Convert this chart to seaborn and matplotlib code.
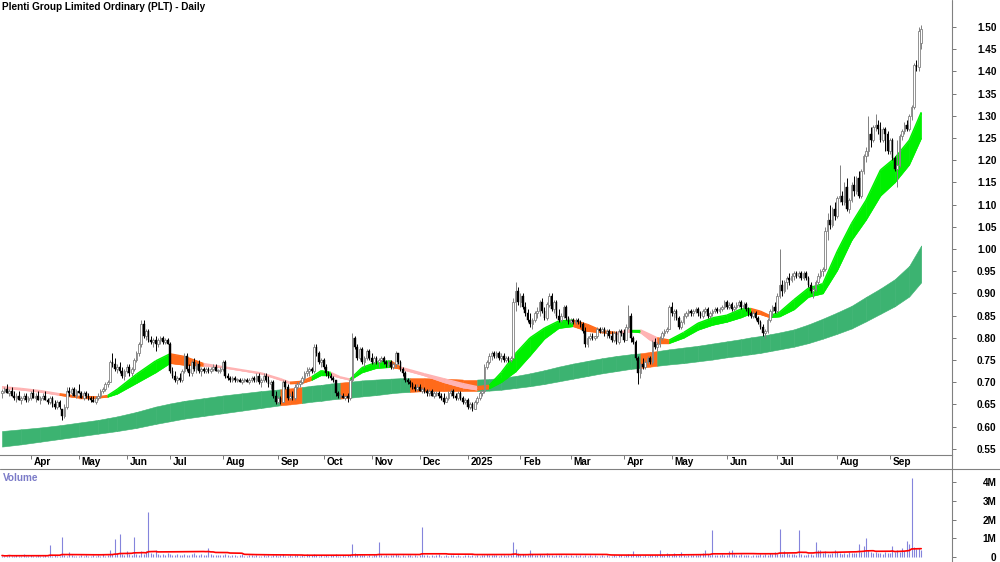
import numpy as np
import pandas as pd
import matplotlib
matplotlib.use('Agg')
import matplotlib.pyplot as plt
from matplotlib.lines import Line2D
import seaborn as sns

# ----------------------------------------------------
# Daily candles (cents), one value per trading day, mid Mar 2024 -> mid Sep 2025
# ----------------------------------------------------
opens = [
    67.5, 68, 68.5, 67.5, 68, 67, 66.5, 67, 66, 66.5, 67, 66,
    66.5, 67.5, 66.5, 67, 66, 66.5, 67, 66, 65.5, 66.5, 65, 64.5, 65.5, 64, 62.5, 64.5,
    68, 67.5, 68.5, 67, 68, 67.5, 66.5, 67.5, 67, 66.5, 66, 65.5, 66.5, 67, 68, 68.5, 69.5,
    70, 74.5, 74, 73, 73.5, 72.5, 71.5, 72.5, 73.5, 72, 73, 75,
    76.5, 78.5, 83, 80.5, 81.5, 79.5, 79, 79.5, 78.5, 79.5, 80, 79, 79.5, 78.5,
    72.5, 71.5, 70.5, 71, 70.5, 72.5, 76, 73, 72, 74.5, 73, 74, 72.5, 73, 72.5,
    73, 72.5, 73, 73.5, 72.5, 72.5, 73, 74.5, 71.5, 71, 70.5, 71, 70.5, 70.5, 70, 70.5, 70.5, 70, 70.5, 71,
    70.5, 71.5, 70, 70.5, 71.5, 70.5, 69.5, 70, 67, 65.5, 66.5, 65.5, 70, 69, 66.5, 67, 66.5, 69, 69.5, 70, 71, 72, 72.5, 73, 72.5,
    78, 76.5, 74.5, 75, 73.5, 72, 71.5, 71, 70.5, 67.5, 67, 67, 66.5, 67, 66.5, 70.5,
    80, 78, 75.5, 77.5, 74.5, 75.5, 77, 75.5, 74.5, 75.5, 74.5, 75, 75.5, 74.5, 74, 74.5, 73.5, 74, 76.5, 74.5, 73, 72, 70.5, 70,
    69.5, 69, 68.5, 69, 68, 68.5, 68, 67.5, 68, 67, 67.5, 67.5, 67, 66.5, 65.5, 66.5, 67.5, 68, 67, 66.5, 67.5, 66.5, 65.5, 66, 64.5, 65, 64, 65.5, 66.5, 67.5,
    68, 73.5, 74.5, 76, 76.5, 76, 76.5, 75.5, 76, 75, 75.5, 75,
    75.5, 88, 90.5, 88, 89.5, 87, 85.5, 84, 83, 84, 85.5, 86, 88, 86, 84.5, 87.5, 89.5, 86.5, 88, 85, 84, 85, 87, 84.5, 83.5, 84, 83.5, 84, 83.5,
    83, 81.5, 78.5, 80, 80.5, 80, 80.5, 82, 81.5, 82, 81, 81.5, 80.5, 79.5, 81, 79, 81.5, 81, 79.5, 82.5, 85, 80, 79, 75.5, 72,
    74, 73.5, 74.5, 75.5, 74.5, 79, 78, 78.5, 80, 81, 81.5, 82, 87, 85.5,
    86, 84.5, 82.5, 83.5, 85, 85.5, 86, 85.5, 86, 86.5, 85.5, 85, 86, 86.5, 85, 85.5, 86, 86.5, 86, 86.5, 87, 88, 87, 87.5, 86.5, 87, 87.5, 88, 87, 87.5, 86.5, 85.5, 85, 85.5, 84.5, 83.5,
    82.5, 81, 81.5, 84, 86, 87, 86, 89.5, 92, 90.5, 92.5, 93.5, 93, 94, 94.5, 94, 94.5, 93.5, 94.5, 93.5, 92, 90.5, 91, 92.5, 94, 95,
    95.5, 104, 106.5, 105.5, 109, 107.5, 111.5, 112, 110.5, 114, 109, 111, 114.5, 113, 116, 112, 117.5, 121,
    122, 126, 124.5, 127.5, 128, 127, 124.5, 127, 126, 122, 124.5, 120.5, 118, 119, 125.5, 126.5, 128, 127, 130, 132, 141.5, 141, 146.5,
]
highs = [
    68.5, 69, 69.5, 68.5, 69, 68, 67.5, 68, 67, 67.5, 67.5, 67,
    68, 68.5, 67.5, 68, 67, 67.5, 68, 66.5, 67, 67, 66, 66, 66, 64, 65, 69,
    69, 69, 69, 68.5, 69.5, 68, 68, 68, 67.5, 67, 67, 67, 67.5, 68.5, 69, 70, 70.5,
    75, 76.5, 75.5, 74, 74.5, 73.5, 73, 74, 74, 73.5, 75.5, 77,
    79, 84, 84, 82, 82, 80.5, 80, 80.5, 80, 80.5, 80.5, 80, 80, 79,
    73.5, 72.5, 71.5, 72, 73, 76.5, 76.5, 74, 75, 75.5, 74.5, 75, 73.5, 73.5, 73.5,
    73.5, 73.5, 74, 74, 73, 73.5, 75, 75, 72, 71.5, 71.5, 71.5, 71, 71, 71, 71, 71, 71, 71.5, 71.5,
    72, 72, 71, 72, 72, 71.5, 70.5, 70.5, 68, 67, 67, 70.5, 70.5, 69.5, 67.5, 68, 69.5, 70, 70.5, 71.5, 72.5, 73.5, 73.5, 73.5, 78.5,
    78.5, 77, 75.5, 75.5, 74, 72.5, 72, 71.5, 70.5, 68, 67.5, 67.5, 67, 67.5, 71, 81,
    80.5, 78.5, 78, 78, 76, 77.5, 77.5, 76.5, 76, 76, 75.5, 76, 76, 75, 75, 75, 74.5, 77, 76.5, 75, 73.5, 72.5, 71, 70.5,
    70, 69.5, 69.5, 69.5, 69, 69, 68.5, 68.5, 68.5, 68, 68, 68, 67.5, 67.5, 67, 68, 68.5, 68.5, 67.5, 68, 68, 67, 66.5, 66.5, 65.5, 65.5, 66, 67, 68, 68.5,
    74, 75, 76.5, 77, 77, 77, 77, 76.5, 76.5, 76, 76, 76,
    89, 92.5, 91.5, 90, 90, 88, 86.5, 85.5, 84.5, 86, 87, 88.5, 89, 87, 88, 90, 90, 88.5, 88.5, 86.5, 85.5, 87.5, 87.5, 85, 84.5, 84.5, 84.5, 84.5, 84,
    83.5, 82.5, 80.5, 81, 81, 80.5, 82.5, 82.5, 82.5, 82.5, 82, 82, 81.5, 81.5, 81.5, 82, 82, 82, 83, 87.5, 85.5, 80.5, 79.5, 76, 74.5,
    75.5, 75, 76, 76, 79.5, 80, 79, 80.5, 81.5, 82, 82.5, 87.5, 88, 86.5,
    86.5, 85, 84, 85.5, 86, 86.5, 86.5, 86.5, 87, 87, 86, 86.5, 87, 87, 86, 86.5, 87, 87, 87, 87.5, 88.5, 88.5, 88, 88, 87.5, 88, 88.5, 88.5, 88, 88, 87, 86, 86, 86, 85, 84,
    83, 82, 84.5, 86.5, 87.5, 88, 90, 100, 93, 93, 94, 94.5, 94.5, 95, 95, 95, 95, 95, 95, 94, 92.5, 91.5, 93, 94.5, 95.5, 96,
    105, 108, 110, 109.5, 110.5, 112, 119, 113, 115, 116, 111.5, 115, 116.5, 116.5, 117.5, 118, 121.5, 123,
    130, 127.5, 128, 130.5, 129, 128.5, 127.5, 127.5, 126.5, 125, 125, 121, 124.5, 126, 127, 128.5, 129, 130.5, 132.5, 142, 142.5, 150, 150.5,
]
lows = [
    66.5, 67.5, 67.5, 67, 67, 66, 65.5, 66, 65, 66, 65.5, 65.5,
    66, 66.5, 65.5, 66, 65, 66, 66, 65, 65, 64.5, 64, 64, 64, 61.5, 62, 64,
    67, 67, 67, 66.5, 67.5, 66.5, 66, 66.5, 66, 65.5, 65.5, 65, 66, 66.5, 67.5, 68, 69,
    70, 73.5, 72.5, 72, 72, 71, 70.5, 72, 71.5, 71.5, 72.5, 74.5,
    76, 78, 80, 79.5, 79, 78.5, 78, 77, 78, 78.5, 78.5, 78.5, 78.5, 72,
    71, 70, 69.5, 70, 70, 72, 72.5, 71.5, 71.5, 72.5, 72, 72, 71.5, 72, 72,
    72, 72, 72.5, 72.5, 72, 72, 72.5, 71, 70.5, 70, 70, 70, 70, 70, 69.5, 70, 70, 69.5, 70, 70,
    70, 69.5, 69, 70, 70, 69, 68.5, 66.5, 65, 65, 65, 65.5, 68.5, 66, 66, 66, 66, 68.5, 69, 69.5, 70.5, 71.5, 71.5, 72, 72,
    76, 74, 73.5, 73, 71.5, 71, 70.5, 70, 67, 66.5, 66.5, 66.5, 66, 65.5, 66, 70,
    77.5, 75, 75, 74, 73.5, 75, 75, 74, 74, 74, 73.5, 74.5, 74, 73.5, 73.5, 73, 73, 73.5, 74, 72.5, 71.5, 70, 69.5, 69,
    68.5, 68, 68, 68, 67.5, 67.5, 67, 67, 67, 66.5, 67, 66.5, 66, 65, 65.5, 66, 67, 66.5, 66, 66, 66, 65, 65, 64, 64, 63.5, 64, 65, 66, 67,
    67.5, 73, 74, 75, 75.5, 75.5, 75, 74.5, 74.5, 74.5, 74.5, 74.5,
    75.5, 86, 87.5, 87, 86.5, 85, 83.5, 82.5, 82, 83.5, 84.5, 85, 85.5, 84, 84, 87, 86, 85.5, 84.5, 83.5, 83.5, 84.5, 84, 83, 83, 83, 83, 83, 82.5,
    81, 78, 78, 79.5, 79.5, 79.5, 80, 81, 81, 80.5, 80, 80, 79, 79, 78.5, 78.5, 80.5, 79, 79.5, 82, 79, 78.5, 75, 69.5, 71,
    73, 73, 74, 74, 74, 77.5, 77, 78, 79.5, 80.5, 81, 82, 85, 84,
    84, 82, 82, 83, 84.5, 85, 85, 85, 85.5, 85, 84.5, 84.5, 85.5, 84.5, 84.5, 85, 85.5, 85.5, 85.5, 86, 86.5, 86.5, 86.5, 86, 86, 86.5, 87, 86.5, 86.5, 86, 85, 84.5, 84.5, 84, 83, 82,
    80.5, 80, 81, 83.5, 85, 85.5, 85.5, 89, 89.5, 90, 91, 92, 92.5, 93, 93.5, 93.5, 93, 93, 93, 91.5, 90, 89, 90.5, 92, 93.5, 94,
    95, 102, 104.5, 105, 106.5, 107, 110.5, 110, 110, 108.5, 108, 110.5, 112, 112.5, 111.5, 111.5, 117, 119.5,
    121, 123, 124, 126.5, 126, 124, 124, 122, 121.5, 121.5, 120, 117.5, 114, 118.5, 124.5, 126, 126.5, 126.5, 129, 131.5, 140, 140, 145,
]
closes = [
    68, 68.5, 67.5, 68, 67, 66.5, 67, 66, 66.5, 67, 66, 66.5,
    67.5, 66.5, 67, 66, 66.5, 67, 66, 65.5, 66.5, 65, 64.5, 65.5, 64.5, 62.5, 64.5, 68,
    67.5, 68.5, 67, 68, 67.5, 66.5, 67.5, 67, 66.5, 66, 65.5, 66.5, 67, 68, 68.5, 69.5, 70,
    74.5, 74, 73, 73.5, 72.5, 71.5, 72.5, 73.5, 72, 73, 75, 76.5,
    78.5, 83, 80.5, 81.5, 79.5, 79, 79.5, 78.5, 79.5, 80, 79, 79.5, 78.5, 72.5,
    71.5, 70.5, 71, 70.5, 72.5, 76, 73, 72, 74.5, 73, 74, 72.5, 73, 72.5, 73,
    72.5, 73, 73.5, 72.5, 72.5, 73, 74.5, 71.5, 71, 70.5, 71, 70.5, 70.5, 70, 70.5, 70.5, 70, 70.5, 71, 70.5,
    71.5, 70, 70.5, 71.5, 70.5, 69.5, 70, 67, 65.5, 66.5, 65.5, 70, 69, 66.5, 67, 66.5, 69, 69.5, 70, 71, 72, 72.5, 73, 72.5, 78,
    76.5, 74.5, 75, 73.5, 72, 71.5, 71, 70.5, 67.5, 67, 67, 66.5, 67, 66.5, 70.5, 80,
    78, 75.5, 77.5, 74.5, 75.5, 77, 75.5, 74.5, 75.5, 74.5, 75, 75.5, 74.5, 74, 74.5, 73.5, 74, 76.5, 74.5, 73, 72, 70.5, 70, 69.5,
    69, 68.5, 69, 68, 68.5, 68, 67.5, 68, 67, 67.5, 67.5, 67, 66.5, 65.5, 66.5, 67.5, 68, 67, 66.5, 67.5, 66.5, 65.5, 66, 64.5, 65, 64, 65.5, 66.5, 67.5, 68,
    73.5, 74.5, 76, 76.5, 76, 76.5, 75.5, 76, 75, 75.5, 75, 75.5,
    88, 90.5, 88, 89.5, 87, 85.5, 84, 83, 84, 85.5, 86, 88, 86, 84.5, 87.5, 89.5, 86.5, 88, 85, 84, 85, 87, 84.5, 83.5, 84, 83.5, 84, 83.5, 83,
    81.5, 78.5, 80, 80.5, 80, 80.5, 82, 81.5, 82, 81, 81.5, 80.5, 79.5, 81, 79, 81.5, 81, 79.5, 82.5, 85, 80, 79, 75.5, 72, 74,
    73.5, 74.5, 75.5, 74.5, 79, 78, 78.5, 80, 81, 81.5, 82, 87, 85.5, 86,
    84.5, 82.5, 83.5, 85, 85.5, 86, 85.5, 86, 86.5, 85.5, 85, 86, 86.5, 85, 85.5, 86, 86.5, 86, 86.5, 87, 88, 87, 87.5, 86.5, 87, 87.5, 88, 87, 87.5, 86.5, 85.5, 85, 85.5, 84.5, 83.5, 82.5,
    81, 81.5, 84, 86, 87, 86, 89.5, 92, 90.5, 92.5, 93.5, 93, 94, 94.5, 94, 94.5, 93.5, 94.5, 93.5, 92, 90.5, 91, 92.5, 94, 95, 95.5,
    104, 106.5, 105.5, 109, 107.5, 111.5, 112, 110.5, 114, 109, 111, 114.5, 113, 116, 112, 117.5, 121, 122,
    126, 124.5, 127.5, 128, 127, 124.5, 127, 126, 122, 124.5, 120.5, 118, 119, 125.5, 126.5, 128, 127, 130, 132, 141.5, 141, 149, 149.5,
]

# Daily volume, thousands of shares
volume = [
    80, 45, 60, 120, 35, 70, 90, 40, 55, 150, 60, 30, 85, 70, 45, 110,
    60, 40, 95, 50, 640, 70, 120, 45, 80, 1070, 130, 60, 270, 90, 50, 75,
    60, 110, 40, 85, 70, 55, 130, 45, 90, 60, 150, 80, 120, 370, 140, 960,
    200, 1230, 180, 90, 300, 140, 110, 1070, 160, 120, 300, 150, 300, 2400, 220, 140,
    370, 180, 130, 160, 110, 200, 150, 130, 90, 170, 120, 100, 140, 90, 110, 160,
    200, 130, 100, 150, 120, 90, 480, 140, 110, 100, 130, 90, 120, 150, 100, 80,
    120, 90, 70, 110, 140, 80, 60, 100, 90, 70, 120, 60, 80, 110, 50, 90,
    70, 130, 100, 60, 90, 150, 80, 60, 110, 70, 90, 130, 60, 100, 80, 140,
    90, 120, 180, 110, 80, 130, 70, 100, 60, 90, 110, 140, 80, 60, 100, 70,
    90, 120, 690, 200, 150, 110, 90, 130, 80, 100, 70, 120, 90, 800, 110, 80,
    100, 70, 90, 120, 150, 110, 80, 100, 60, 90, 130, 70, 110, 80, 100, 1600,
    120, 90, 70, 110, 60, 100, 150, 80, 70, 120, 60, 90, 110, 70, 100, 80,
    60, 120, 90, 70, 100, 80, 110, 60, 90, 130, 150, 110, 90, 120, 100, 80,
    110, 90, 70, 100, 120, 800, 450, 200, 130, 150, 110, 90, 350, 140, 100, 120,
    150, 110, 90, 200, 130, 100, 80, 120, 90, 110, 70, 100, 60, 90, 80, 110,
    70, 100, 60, 90, 80, 120, 70, 100, 60, 80, 110, 70, 90, 60, 80, 100,
    70, 90, 110, 80, 130, 150, 100, 300, 120, 90, 110, 80, 100, 70, 90, 130,
    100, 120, 350, 110, 90, 200, 140, 100, 220, 130, 90, 250, 110, 80, 120, 100,
    90, 130, 110, 150, 200, 350, 140, 120, 1440, 130, 110, 90, 150, 120, 100, 300,
    350, 160, 120, 100, 140, 110, 90, 130, 80, 120, 100, 90, 140, 110, 150, 130,
    200, 160, 250, 140, 1490, 180, 300, 200, 160, 140, 180, 120, 1440, 150, 130, 110,
    160, 140, 120, 800, 350, 400, 200, 300, 180, 160, 220, 400, 250, 200, 170, 230,
    180, 260, 200, 240, 190, 690, 250, 600, 1000, 400, 280, 220, 250, 200, 230, 180,
    260, 210, 240, 600, 280, 350, 250, 500, 300, 850, 700, 4200, 550, 450, 500, 400,
]

# ----------------------------------------------------
# Moving average bands (bar index -> price)
# ----------------------------------------------------
band_idx = [0, 8, 16, 24, 32, 40, 44, 48, 56, 64,
            70, 76, 84, 92, 100, 108, 116, 120, 125, 129,
            133, 137, 141, 145, 150, 156, 162, 166, 170, 176,
            184, 192, 198, 203, 208, 214, 220, 226, 232, 238,
            244, 250, 256, 262, 266, 270, 273, 278, 284, 290,
            296, 302, 308, 312, 316, 320, 324, 330, 336, 342,
            348, 354, 360, 366, 372, 378, 383]
slow_hi = [.590, .594, .598, .603, .609, .615, .619, .623, .633, .645,
           .652, .658, .664, .670, .675, .680, .684, .686, .689, .692,
           .694, .697, .699, .701, .704, .706, .708, .709, .709, .709,
           .708, .706, .706, .707, .710, .714, .720, .727, .735, .742,
           .748, .754, .759, .763, .765, .768, .770, .774, .778, .782,
           .787, .792, .797, .801, .804, .808, .812, .819, .830, .843,
           .857, .872, .892, .911, .932, .962, 1.008]
slow_lo = [.555, .560, .566, .572, .578, .584, .587, .590, .597, .606,
           .612, .618, .624, .630, .636, .642, .648, .650, .653, .656,
           .658, .661, .663, .665, .668, .671, .675, .677, .678, .680,
           .680, .680, .680, .681, .683, .687, .691, .696, .702, .708,
           .714, .720, .725, .730, .732, .735, .737, .740, .743, .747,
           .751, .756, .760, .763, .766, .770, .774, .780, .788, .798,
           .809, .821, .837, .854, .871, .893, .925]
slow_col = "gggggggggg" "ggggggoogg" "ggogggggoo" "oogggggggg" "ggggoogggg" "gggggggggg" "gggggg"

fast_hi = [.690, .686, .681, .674, .668, .667, .670, .684, .718, .748,
           .764, .758, .742, .735, .728, .721, .708, .700, .702, .712,
           .726, .722, .712, .707, .733, .745, .748, .734, .728, .719,
           .708, .697, .690, .693, .722, .765, .800, .822, .838, .840,
           .830, .816, .812, .818, .818, .808, .800, .795, .812, .833,
           .845, .851, .865, .866, .860, .850, .858, .886, .912, .922,
           .995, 1.058, 1.110, 1.178, 1.205, 1.245, 1.308]
fast_lo = [.687, .683, .678, .671, .665, .665, .667, .674, .698, .722,
           .743, .739, .737, .733, .726, .719, .705, .697, .698, .705,
           .716, .716, .710, .705, .722, .732, .734, .730, .724, .715,
           .700, .688, .683, .686, .700, .724, .760, .798, .822, .826,
           .815, .812, .809, .814, .812, .795, .788, .788, .800, .818,
           .829, .836, .846, .855, .853, .846, .848, .864, .892, .900,
           .952, 1.020, 1.066, 1.120, 1.150, 1.190, 1.250]
fast_col = "pppooogggg" "oopppppoog" "gppgggoppp" "ppoggggggo" "oopgppoggg" "gggooggggg" "gggggg"

# Month ticks (bar index of first bar of month)
tick_idx = [12, 32, 52, 70, 92, 115, 134, 154, 174, 194, 216, 237, 259, 279, 302, 323, 348, 370]
tick_lbl = ['Apr', 'May', 'Jun', 'Jul', 'Aug', 'Sep', 'Oct', 'Nov', 'Dec', '2025',
            'Feb', 'Mar', 'Apr', 'May', 'Jun', 'Jul', 'Aug', 'Sep']

title = 'Plenti Group Limited Ordinary (PLT) - Daily'

# ----------------------------------------------------
# Build frame
# ----------------------------------------------------
df = pd.DataFrame({'open': opens, 'high': highs, 'low': lows, 'close': closes})
df = df / 100.0
df['volume'] = np.array(volume) * 1000.0
df['idx'] = np.arange(len(df))
df['vol_ma'] = df['volume'].rolling(40, min_periods=1).mean()

sns.set_theme(style='white')
plt.rcParams['font.family'] = ['Liberation Sans', 'DejaVu Sans']
plt.rcParams['font.weight'] = 'bold'

W, H = 1000, 562
fig = plt.figure(figsize=(10, 5.62), dpi=100)
fig.patch.set_facecolor('white')
ax = fig.add_axes([0, 1 - 455 / H, 952 / W, 455 / H])
axv = fig.add_axes([0, 0, 952 / W, 1 - 469 / H])

px_per_bar = 2.4
xmin = -2 / px_per_bar
xmax = xmin + 952 / px_per_bar

cols = {'g': '#00F000', 'o': '#FF6A1A', 'p': '#FFB3B3'}
slow_cols = {'g': '#3CB371', 'o': '#FF6A1A'}

bx = np.array(band_idx)
for k in range(len(bx) - 1):
    s = slice(k, k + 2)
    c = slow_cols[slow_col[k]]
    ax.fill_between(bx[s], np.array(slow_lo)[s], np.array(slow_hi)[s],
                    color=c, lw=0.4, edgecolor=c, zorder=1)
for k in range(len(bx) - 1):
    s = slice(k, k + 2)
    c = cols[fast_col[k]]
    ax.fill_between(bx[s], np.array(fast_lo)[s], np.array(fast_hi)[s],
                    color=c, lw=0.4, edgecolor=c, zorder=2)
    ax.plot(bx[s], np.array(fast_hi)[s], color=c, lw=1.0, zorder=2, solid_capstyle='butt')
    ax.plot(bx[s], np.array(fast_lo)[s], color=c, lw=1.0, zorder=2, solid_capstyle='butt')

# candles
up = df['close'] >= df['open']
dn = ~up
body_lo = np.minimum(df['open'], df['close'])
body_h = np.maximum((df['close'] - df['open']).abs(), 0.0015)
ax.vlines(df['idx'][up], df['low'][up], df['high'][up], color='#808080', lw=0.7, zorder=3)
ax.vlines(df['idx'][dn], df['low'][dn], df['high'][dn], color='black', lw=0.7, zorder=3)
ax.bar(df['idx'][up], body_h[up], bottom=body_lo[up], width=0.75,
       color='white', edgecolor='#808080', lw=0.6, zorder=4)
ax.bar(df['idx'][dn], body_h[dn], bottom=body_lo[dn], width=0.75,
       color='black', edgecolor='black', lw=0.3, zorder=4)

ax.set_xlim(xmin, xmax)
ax.set_ylim(1.5 - 428 / 444, 1.5 + 27 / 444)
price_ticks = np.arange(0.55, 1.501, 0.05)
ax.set_yticks(price_ticks)
ax.set_yticklabels(['%.2f' % t for t in price_ticks])
ax.yaxis.tick_right()
ax.tick_params(axis='y', direction='out', length=3, width=0.6, color='#606060',
               pad=29, labelsize=7.2, labelcolor='black')
for t in ax.get_yticklabels():
    t.set_horizontalalignment('right')
    t.set_fontweight('bold')
ax.set_xticks(tick_idx)
ax.set_xticklabels([])
ax.tick_params(axis='x', direction='out', length=3, width=0.6, color='#606060', bottom=True)
for i, lbl in zip(tick_idx, tick_lbl):
    ax.annotate(lbl, xy=(i, 0), xycoords=('data', 'axes fraction'), xytext=(2, -5.2),
                textcoords='offset points', ha='left', va='center', fontsize=7.2,
                fontweight='bold', color='black', annotation_clip=False)
for sp in ['top', 'left', 'right']:
    ax.spines[sp].set_visible(False)
ax.spines['bottom'].set_color('#808080')
ax.spines['bottom'].set_linewidth(0.8)
ax.set_facecolor('white')
ax.text(0.002, 1 - 7 / 455, title, transform=ax.transAxes, ha='left', va='center',
        fontsize=7.2, fontweight='bold', color='black')

# volume
axv.vlines(df['idx'], 0, df['volume'], color='#8484DC', lw=0.8, zorder=2)
sns.lineplot(data=df, x='idx', y='vol_ma', color='#FF0000', lw=1.2, ax=axv, zorder=3)
axv.set_xlim(xmin, xmax)
axv.set_ylim(-5 / 18.75 * 1e6, (557 - 469) / 18.75 * 1e6)
axv.set_yticks([0, 1e6, 2e6, 3e6, 4e6])
axv.set_yticklabels(['0', '1M', '2M', '3M', '4M'])
axv.yaxis.tick_right()
axv.tick_params(axis='y', direction='out', length=3, width=0.6, color='#606060',
                pad=29, labelsize=7.2, labelcolor='black')
for t in axv.get_yticklabels():
    t.set_horizontalalignment('right')
    t.set_fontweight('bold')
axv.set_xticks([])
axv.set_xlabel('')
axv.set_ylabel('')
for sp in ['top', 'left', 'right', 'bottom']:
    axv.spines[sp].set_visible(False)
axv.text(0.003, 1 - 9 / 93, 'Volume', transform=axv.transAxes, ha='left', va='center',
         fontsize=7.2, fontweight='bold', color='#7B7BC8')

# frame lines
fig.add_artist(Line2D([952 / W, 952 / W], [0, 1], color='#808080', lw=0.8))
fig.add_artist(Line2D([0, 1], [1 - 469 / H, 1 - 469 / H], color='#808080', lw=0.8))

fig.savefig('out.png', dpi=100, facecolor='white')
